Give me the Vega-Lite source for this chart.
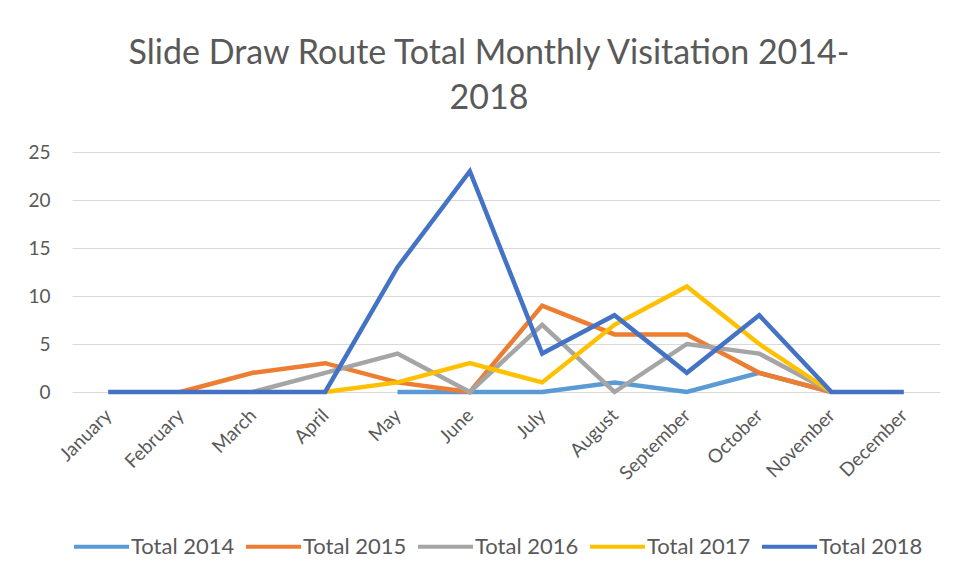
{
  "$schema": "https://vega.github.io/schema/vega-lite/v6.json",
  "autosize": {"type": "none"},
  "width": 868,
  "height": 240,
  "padding": {"left": 72, "top": 152, "right": 19, "bottom": 185},
  "background": "white",
  "title": {
    "text": ["Slide Draw Route Total Monthly Visitation 2014-", "2018"],
    "fontSize": 34,
    "font": "Lato",
    "fontWeight": "normal",
    "color": "#595959",
    "lineHeight": 45,
    "anchor": "middle",
    "frame": "group",
    "dx": -17,
    "offset": 27
  },
  "config": {
    "view": {"stroke": null},
    "font": "Lato"
  },
  "data": {
    "values": [
      {"month": "May", "series": "Total 2014", "value": 0},
      {"month": "June", "series": "Total 2014", "value": 0},
      {"month": "July", "series": "Total 2014", "value": 0},
      {"month": "August", "series": "Total 2014", "value": 1},
      {"month": "September", "series": "Total 2014", "value": 0},
      {"month": "October", "series": "Total 2014", "value": 2},
      {"month": "November", "series": "Total 2014", "value": 0},
      {"month": "February", "series": "Total 2015", "value": 0},
      {"month": "March", "series": "Total 2015", "value": 2},
      {"month": "April", "series": "Total 2015", "value": 3},
      {"month": "May", "series": "Total 2015", "value": 1},
      {"month": "June", "series": "Total 2015", "value": 0},
      {"month": "July", "series": "Total 2015", "value": 9},
      {"month": "August", "series": "Total 2015", "value": 6},
      {"month": "September", "series": "Total 2015", "value": 6},
      {"month": "October", "series": "Total 2015", "value": 2},
      {"month": "November", "series": "Total 2015", "value": 0},
      {"month": "March", "series": "Total 2016", "value": 0},
      {"month": "April", "series": "Total 2016", "value": 2},
      {"month": "May", "series": "Total 2016", "value": 4},
      {"month": "June", "series": "Total 2016", "value": 0},
      {"month": "July", "series": "Total 2016", "value": 7},
      {"month": "August", "series": "Total 2016", "value": 0},
      {"month": "September", "series": "Total 2016", "value": 5},
      {"month": "October", "series": "Total 2016", "value": 4},
      {"month": "November", "series": "Total 2016", "value": 0},
      {"month": "April", "series": "Total 2017", "value": 0},
      {"month": "May", "series": "Total 2017", "value": 1},
      {"month": "June", "series": "Total 2017", "value": 3},
      {"month": "July", "series": "Total 2017", "value": 1},
      {"month": "August", "series": "Total 2017", "value": 7},
      {"month": "September", "series": "Total 2017", "value": 11},
      {"month": "October", "series": "Total 2017", "value": 5},
      {"month": "November", "series": "Total 2017", "value": 0},
      {"month": "January", "series": "Total 2018", "value": 0},
      {"month": "February", "series": "Total 2018", "value": 0},
      {"month": "March", "series": "Total 2018", "value": 0},
      {"month": "April", "series": "Total 2018", "value": 0},
      {"month": "May", "series": "Total 2018", "value": 13},
      {"month": "June", "series": "Total 2018", "value": 23},
      {"month": "July", "series": "Total 2018", "value": 4},
      {"month": "August", "series": "Total 2018", "value": 8},
      {"month": "September", "series": "Total 2018", "value": 2},
      {"month": "October", "series": "Total 2018", "value": 8},
      {"month": "November", "series": "Total 2018", "value": 0},
      {"month": "December", "series": "Total 2018", "value": 0}
    ]
  },
  "mark": {"type": "line", "strokeWidth": 4.5, "strokeJoin": "miter", "strokeCap": "butt"},
  "encoding": {
    "x": {
      "field": "month",
      "type": "ordinal",
      "sort": ["January", "February", "March", "April", "May", "June", "July", "August", "September", "October", "November", "December"],
      "scale": {"type": "point", "padding": 0.5},
      "axis": {
        "title": null,
        "labelAngle": -45,
        "labelAlign": "right",
        "labelBaseline": "middle",
        "labelFontSize": 19,
        "labelColor": "#595959",
        "labelPadding": 20,
        "ticks": false,
        "domain": false,
        "grid": false
      }
    },
    "y": {
      "field": "value",
      "type": "quantitative",
      "scale": {"domain": [0, 25], "nice": false},
      "axis": {
        "title": null,
        "values": [0, 5, 10, 15, 20, 25],
        "labelFontSize": 19,
        "labelColor": "#595959",
        "labelPadding": 22,
        "ticks": false,
        "domain": false,
        "grid": true,
        "gridColor": "#d9d9d9",
        "gridWidth": 1
      }
    },
    "color": {
      "field": "series",
      "type": "nominal",
      "scale": {
        "domain": ["Total 2014", "Total 2015", "Total 2016", "Total 2017", "Total 2018"],
        "range": ["#5B9BD5", "#ED7D31", "#A5A5A5", "#FFC000", "#4472C4"]
      },
      "legend": {
        "title": null,
        "orient": "bottom",
        "direction": "horizontal",
        "symbolType": "stroke",
        "symbolSize": 3025,
        "symbolStrokeWidth": 4,
        "labelFontSize": 22,
        "labelColor": "#595959",
        "labelOffset": 0,
        "columnPadding": 3,
        "offset": 33
      }
    },
    "order": {"value": null}
  }
}
